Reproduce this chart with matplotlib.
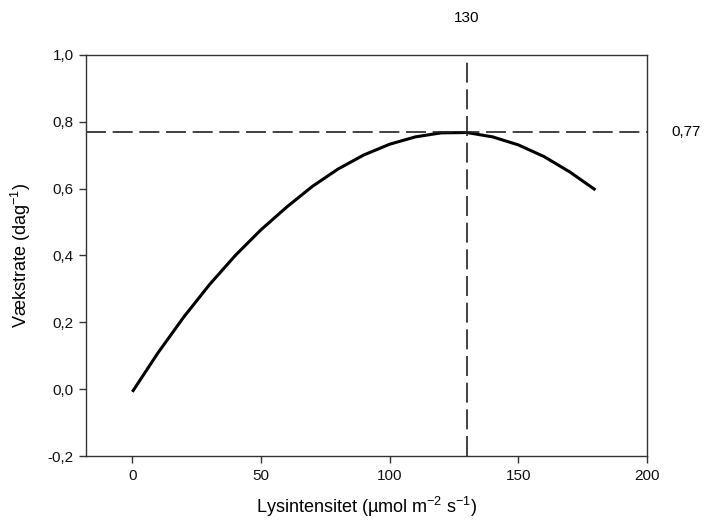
import matplotlib
matplotlib.use("Agg")
import matplotlib.pyplot as plt
from matplotlib.ticker import FuncFormatter

plt.rcParams['font.family'] = ['Liberation Sans', 'DejaVu Sans']
plt.rcParams['mathtext.fontset'] = 'custom'
plt.rcParams['mathtext.rm'] = 'Liberation Sans'
plt.rcParams['mathtext.it'] = 'Liberation Sans'

light = [0, 10, 20, 30, 40, 50, 60, 70, 80, 90, 100, 110, 120, 130, 140, 150, 160, 170, 180]
growth = [-0.008, 0.109, 0.216, 0.313, 0.400, 0.477, 0.545, 0.607, 0.659, 0.701, 0.733, 0.755,
          0.767, 0.768, 0.755, 0.731, 0.696, 0.650, 0.596]
opt_x = 130
opt_y = 0.77
xticks = [0, 50, 100, 150, 200]
yticks = [-0.2, 0.0, 0.2, 0.4, 0.6, 0.8, 1.0]

fig = plt.figure(figsize=(7.07, 5.26), dpi=100)
ax = fig.add_axes([86/707, 70/526, 561/707, 401/526])

ax.plot(light, growth, color='black', lw=2.2, solid_capstyle='butt', solid_joinstyle='round')
ax.axvline(opt_x, color='#222222', lw=1.2, dashes=(12, 4))
ax.axhline(opt_y, color='#222222', lw=1.2, dashes=(12, 4))

ax.set_xlim(-18, 200)
ax.set_ylim(-0.2, 1.0)
ax.set_xticks(xticks)
ax.set_yticks(yticks)
ax.yaxis.set_major_formatter(FuncFormatter(lambda v, p: f"{v:.1f}".replace('.', ',')))
ax.tick_params(direction='out', length=5, width=1, colors='#333333', labelsize=11,
               labelcolor='#111111', pad=4)
for s in ax.spines.values():
    s.set_color('#333333')
    s.set_linewidth(1.0)

ax.set_xlabel('Lysintensitet (µmol m$^{-2}$ s$^{-1}$)', fontsize=13, labelpad=9)
ax.set_ylabel('Vækstrate (dag$^{-1}$)', fontsize=13, labelpad=10)

ax.text(opt_x, 1.11, f"{opt_x}", ha='center', va='center', fontsize=11)
ax.text(1.043, opt_y, f"{opt_y:.2f}".replace('.', ','), ha='left', va='center', fontsize=11,
        transform=ax.get_yaxis_transform())

fig.savefig('out.png', dpi=100)
